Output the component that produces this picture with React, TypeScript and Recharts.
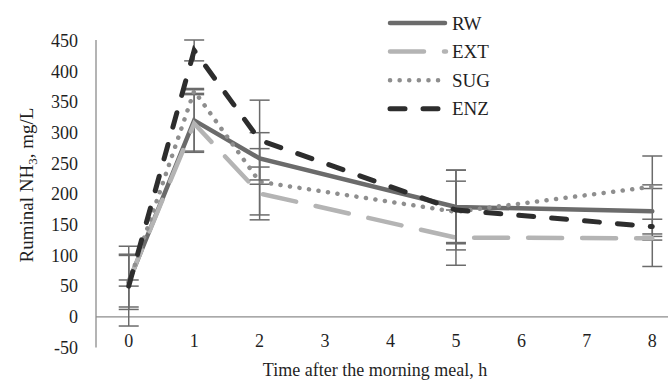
import React from 'react';
import { LineChart, Line, XAxis, YAxis, ErrorBar, ReferenceLine } from 'recharts';

// Sampling times (h after the morning meal) and axis ticks
const hours = [0, 1, 2, 5, 8];
const hourTicks = [0, 1, 2, 3, 4, 5, 6, 7, 8];
const nh3Ticks = [-50, 0, 50, 100, 150, 200, 250, 300, 350, 400, 450];

// Ruminal NH3 (mg/L) means and error bar half-widths per treatment
const rwMean = [57, 320, 258, 179, 172];
const rwSe = [45, 50, 42, 60, 90];
const extMean = [58, 315, 201, 129, 128];
const extSe = [42, 47, 43, 45, 3];
const sugMean = [55, 368, 220, 171, 212];
const sugSe = [5, 4, 54, 50, 3];
const enzMean = [50, 434, 288, 174, 147];
const enzSe = [65, 17, 65, 65, 12];

const treatmentNames = ['RW', 'EXT', 'SUG', 'ENZ'];
const treatmentMeans = [rwMean, extMean, sugMean, enzMean];
const treatmentSe = [rwSe, extSe, sugSe, enzSe];

const lineStyles: Record<string, { color: string; width: number; dash?: string }> = {
  RW: { color: '#6b6b6b', width: 4.5 },
  EXT: { color: '#b4b4b4', width: 4.5, dash: '34 20' },
  SUG: { color: '#8e8e8e', width: 4.5, dash: '0.1 9.5' },
  ENZ: { color: '#2d2d2d', width: 5, dash: '15 18' },
};

const FONT = '"Liberation Serif", "Times New Roman", serif';
const TEXT = '#1f1f1f';
const AXIS = '#8c8c8c';
const ERR = '#6b6b6b';

const data = hours.map((t, i) => {
  const row: Record<string, number> = { t };
  treatmentNames.forEach((name, k) => {
    row[name] = treatmentMeans[k][i];
    row[name + '_se'] = treatmentSe[k][i];
  });
  return row;
});

const XTick = (props: any) => (
  <text x={props.x} y={props.y} dy={-1} textAnchor="middle" fontSize={18} fontFamily={FONT} fill={TEXT}>
    {props.payload.value}
  </text>
);

const YTick = (props: any) => (
  <text x={props.x} y={props.y} dy="0.35em" textAnchor="end" fontSize={18} fontFamily={FONT} fill={TEXT}>
    {props.payload.value}
  </text>
);

const Legend = () => (
  <g>
    {treatmentNames.map((name, i) => {
      const s = lineStyles[name];
      const y = 23 + i * 28.6;
      return (
        <g key={name}>
          <line
            x1={390}
            x2={name === 'RW' ? 445 : name === 'ENZ' ? 440 : 446}
            y1={y}
            y2={y}
            stroke={s.color}
            strokeWidth={s.width}
            strokeDasharray={s.dash}
            strokeLinecap="round"
          />
          <text x={452} y={y + 6.5} fontSize={19} fontFamily={FONT} fill={TEXT}>
            {name}
          </text>
        </g>
      );
    })}
  </g>
);

export default function App() {
  return (
    <div style={{ position: 'absolute', left: 0, top: 0, width: 668, height: 381, background: '#fff' }}>
      <LineChart width={668} height={381} data={data} margin={{ top: 40, right: 0, bottom: 0, left: 0 }}>
        <XAxis
          dataKey="t"
          type="number"
          domain={[-0.5, 8.24]}
          allowDataOverflow
          ticks={hourTicks}
          interval={0}
          axisLine={false}
          tickLine={false}
          tickSize={0}
          tickMargin={0}
          height={33.5}
          tick={<XTick />}
        />
        <YAxis
          type="number"
          domain={[-50, 450]}
          ticks={nh3Ticks}
          interval={0}
          width={96}
          axisLine={{ stroke: AXIS, strokeWidth: 1.3 }}
          tickLine={false}
          tickSize={0}
          tickMargin={18}
          tick={<YTick />}
        />
        <ReferenceLine y={0} stroke={AXIS} strokeWidth={1.3} />
        {treatmentNames.map((name) => {
          const s = lineStyles[name];
          return (
            <Line
              key={name}
              dataKey={name}
              type="linear"
              stroke={s.color}
              strokeWidth={s.width}
              strokeDasharray={s.dash}
              strokeLinecap="round"
              dot={false}
              activeDot={false}
              isAnimationActive={false}
            >
              <ErrorBar
                dataKey={name + '_se'}
                direction="y"
                width={10}
                stroke={ERR}
                strokeWidth={1.5}
                isAnimationActive={false}
              />
            </Line>
          );
        })}
      </LineChart>
      <svg
        width={668}
        height={381}
        style={{ position: 'absolute', left: 0, top: 0, pointerEvents: 'none' }}
      >
        <text
          x={33}
          y={185}
          transform="rotate(-90 33 185)"
          textAnchor="middle"
          fontSize={19}
          fontFamily={FONT}
          fill={TEXT}
        >
          Ruminal NH
          <tspan fontSize={13} dy={4}>3</tspan>
          <tspan dy={-4}>, mg/L</tspan>
        </text>
        <text x={375} y={376} textAnchor="middle" fontSize={18} fontFamily={FONT} fill={TEXT}>
          Time after the morning meal, h
        </text>
        <Legend />
      </svg>
    </div>
  );
}
